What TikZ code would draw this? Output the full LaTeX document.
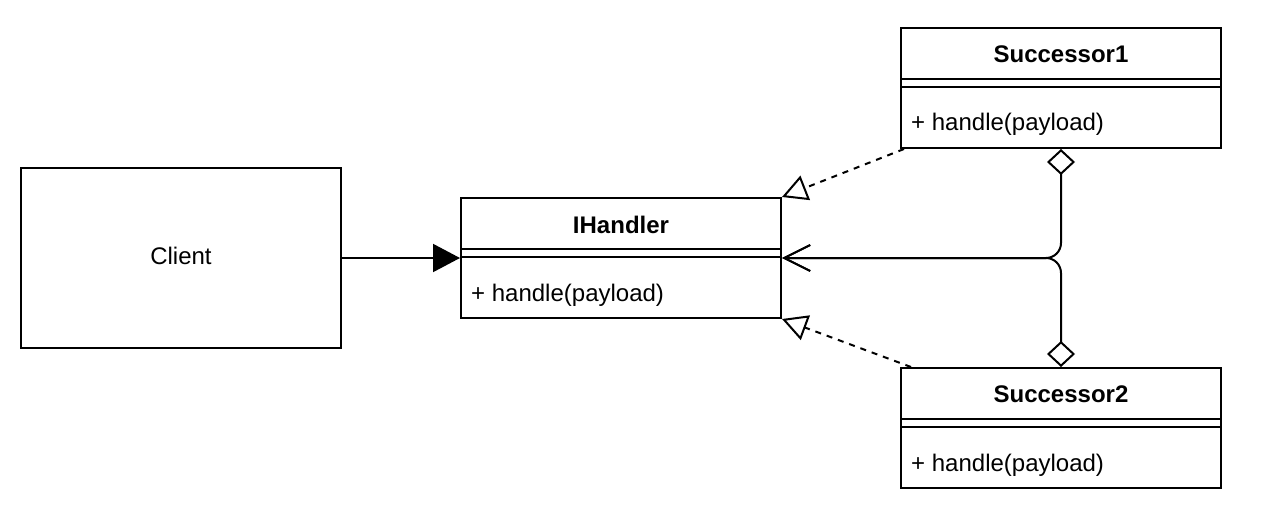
\documentclass[tikz,border=0pt]{standalone}
\usepackage{fontspec}
\setmainfont{Liberation Sans}
\usetikzlibrary{arrows.meta,calc}
\begin{document}
\begin{tikzpicture}[x=1pt,y=-1pt,
  txt/.style={font=\fontsize{24}{29}\selectfont, inner sep=0pt},
  ttl/.style={txt, font=\fontsize{24}{29}\selectfont\bfseries},
  cls/.style={draw, line width=2pt, minimum width=320pt, minimum height=120pt, inner sep=0pt, fill=white},
  clientbox/.style={draw, line width=2pt, minimum width=320pt, minimum height=180pt, inner sep=0pt, fill=white},
  sep/.style={line width=2pt},
  assoc/.style={line width=2pt, -{Triangle[length=27pt,width=28pt]}},
  gen/.style={line width=2pt, dash pattern=on 6pt off 6pt, -{Triangle[open,fill=white,length=25pt,width=26pt]}},
  agg/.style={line width=2pt, rounded corners=15pt, {Diamond[open,fill=white,length=26pt,width=28pt]}-{Straight Barb[length=26pt,width=26pt]}}
]
\fill[white] (0,0) rectangle (1266,508);
\useasboundingbox (0,0) rectangle (1266,508);

% Client
\node[clientbox] (cl) at (181,258) {};
\node[txt] (clt) at ($(cl.center)+(0,-2)$) {Client};

% IHandler
\node[cls] (ih) at (621,258) {};
\node[ttl] (iht) at ($(ih.north)+(0,27.5)$) {IHandler};
\draw[sep] ($(ih.north west)+(0,52)$) -- ($(ih.north east)+(0,52)$);
\draw[sep] ($(ih.north west)+(0,60)$) -- ($(ih.north east)+(0,60)$);
\node[txt, anchor=base west] (ihm) at ($(ih.north west)+(11,104)$) {+ handle(payload)};

% Successor1
\node[cls] (s1) at (1061,88) {};
\node[ttl] (s1t) at ($(s1.north)+(0,27.5)$) {Successor1};
\draw[sep] ($(s1.north west)+(0,52)$) -- ($(s1.north east)+(0,52)$);
\draw[sep] ($(s1.north west)+(0,60)$) -- ($(s1.north east)+(0,60)$);
\node[txt, anchor=base west] (s1m) at ($(s1.north west)+(11,104)$) {+ handle(payload)};

% Successor2
\node[cls] (s2) at (1061,428) {};
\node[ttl] (s2t) at ($(s2.north)+(0,27.5)$) {Successor2};
\draw[sep] ($(s2.north west)+(0,52)$) -- ($(s2.north east)+(0,52)$);
\draw[sep] ($(s2.north west)+(0,60)$) -- ($(s2.north east)+(0,60)$);
\node[txt, anchor=base west] (s2m) at ($(s2.north west)+(11,104)$) {+ handle(payload)};

% connectors
\draw[assoc] (cl.east) -- (ih.west);
\draw[gen] ($(s1.south west)+(4,0)$) -- (ih.north east);
\draw[gen] ($(s2.north west)+(11,0)$) -- (ih.south east);
\draw[agg] (s1.south) |- (ih.east);
\draw[agg] (s2.north) |- (ih.east);
\end{tikzpicture}
\end{document}
